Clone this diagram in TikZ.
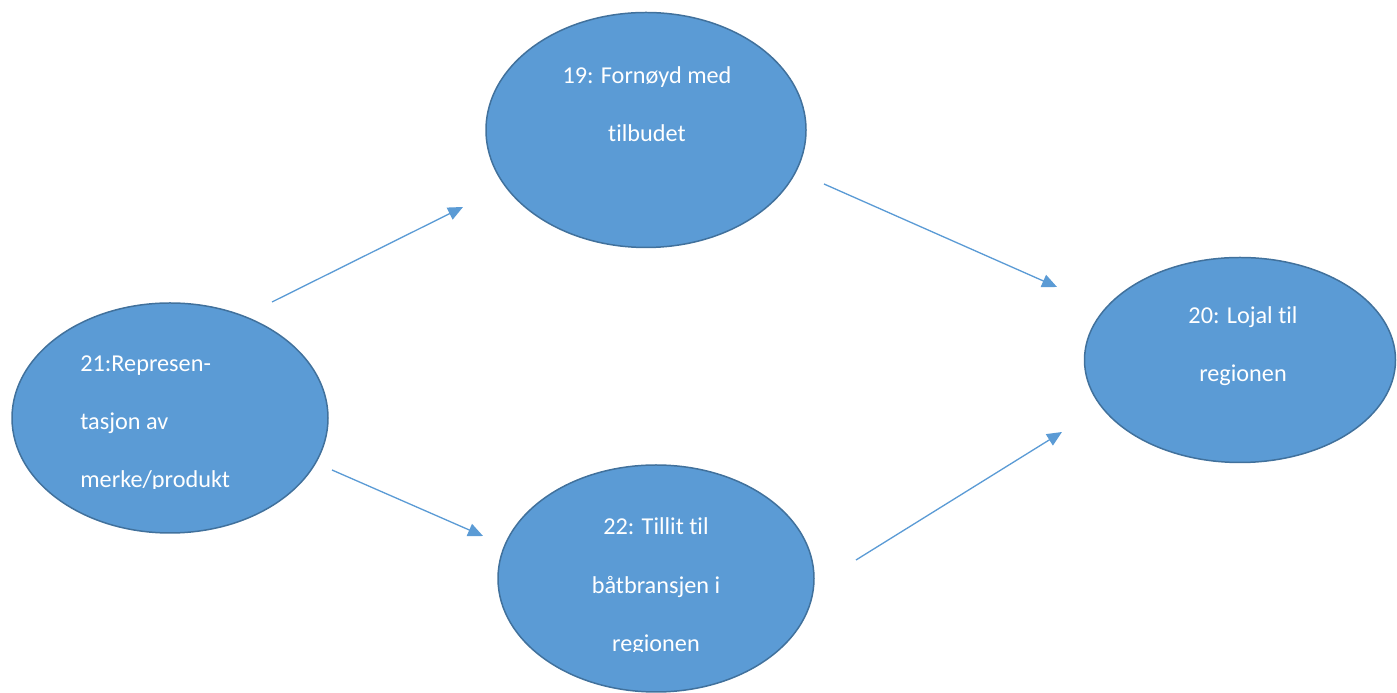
\documentclass[tikz,border=0pt]{standalone}
\usepackage{fontspec}
\setmainfont{Carlito}[Ligatures=NoCommon]
\usepackage{xcolor}
\usetikzlibrary{arrows.meta,shapes.geometric}
\definecolor{officeblue}{HTML}{5B9BD5}
\definecolor{officeedge}{HTML}{41719C}

\begin{document}
\begin{tikzpicture}[
    bubble/.style={ellipse, draw=officeedge, fill=officeblue, line width=0.85pt, inner sep=0pt},
    bubbletext/.style={text=white, font=\fontsize{13.8pt}{33.2pt}\selectfont},
    link/.style={draw=officeblue, line width=0.75pt, -{Triangle[length=8.5pt,width=7.5pt]}}
  ]

  % bounding box
  \useasboundingbox (0,0) rectangle (27.94,13.86);

  % the four ellipses
  \node [bubble, minimum width=6.32cm, minimum height=4.60cm] (n21) at (3.40, 5.50) {};
  \node [bubble, minimum width=6.40cm, minimum height=4.70cm] (n19) at (12.92, 11.26) {};
  \node [bubble, minimum width=6.32cm, minimum height=4.54cm] (n22) at (13.12, 2.29) {};
  \node [bubble, minimum width=6.22cm, minimum height=4.10cm] (n20) at (24.80, 6.66) {};

  % texts (anchored at the last line; the lower two are cut off at the bottom)
  \begin{scope}
    \clip (0.5, 4.09) rectangle (6.5, 7.9);
    \node [bubbletext, align=left, anchor=base west, inner sep=0pt] (t21) at (1.60, 4.10) {21:Represen-\\tasjon av\\merke/produkt};
  \end{scope}
  \node [bubbletext, align=center, anchor=base] (t19) at (12.94, 11.02) {19: Fornøyd med\\tilbudet};
  \begin{scope}
    \clip (10.5, 0.82) rectangle (15.8, 4.5);
    \node [bubbletext, align=center, anchor=base] (t22) at (13.12, 0.83) {22: Tillit til\\båtbransjen i\\regionen};
  \end{scope}
  \node [bubbletext, align=center, anchor=base] (t20) at (24.86, 6.22) {20: Lojal til\\regionen};

  % arrow ends
  \coordinate (a1) at (5.44, 7.82);
  \coordinate (b1) at (9.26, 9.72);
  \coordinate (a2) at (16.48, 10.18);
  \coordinate (b2) at (21.14, 8.12);
  \coordinate (a3) at (6.64, 4.46);
  \coordinate (b3) at (9.66, 3.14);
  \coordinate (a4) at (17.12, 2.66);
  \coordinate (b4) at (21.24, 5.22);

  % arrows
  \draw [link] (a1) -- (b1);
  \draw [link] (a2) -- (b2);
  \draw [link] (a3) -- (b3);
  \draw [link] (a4) -- (b4);

\end{tikzpicture}
\end{document}
